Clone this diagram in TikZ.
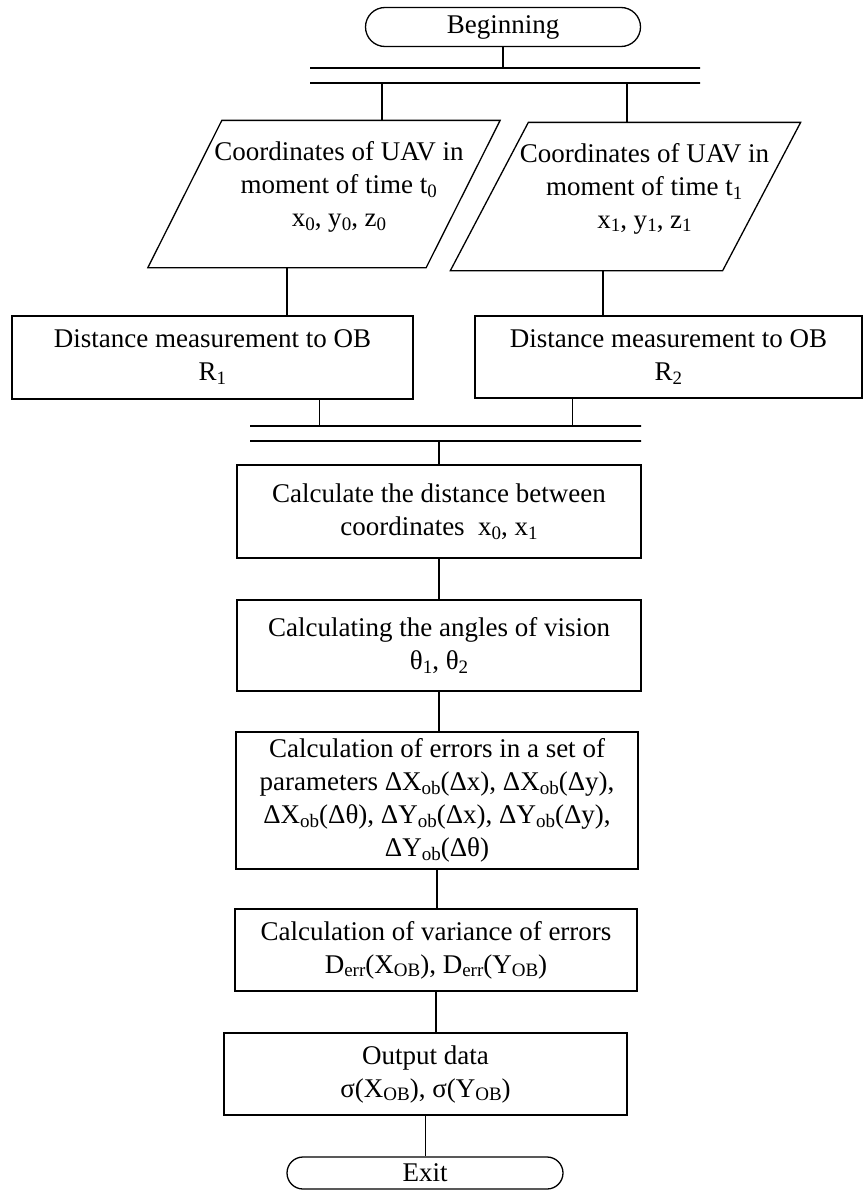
\documentclass[tikz,border=0pt]{standalone}
\usepackage{fontspec}
\setmainfont{Liberation Serif}
\usepackage{tikz}
\usetikzlibrary{shapes}
\newcommand{\sbs}[2]{#1\raisebox{-0.3ex}{\fontsize{19}{19}\selectfont #2}}

\begin{document}
\begin{tikzpicture}[x=1pt,y=-1pt]
    \tikzstyle{every node}=[font=\fontsize{27}{33}\selectfont, align=center, inner sep=0pt, line width=1.3pt]
    \tikzstyle{proc}=[rectangle, draw]
    \tikzstyle{term}=[rounded rectangle, draw]
    \tikzstyle{io}=[rectangle]
    \tikzstyle{bar}=[rectangle, draw, minimum height=0pt]
    \tikzstyle{line}=[line width=1.3pt]
    \useasboundingbox (0,0) rectangle (866,1191);
    \node[term, minimum width=275pt, minimum height=39pt] (begin) at (503,27) {Beginning};
    \node[bar, minimum width=390pt] (fork) at (505,68) {};
    \node[bar, minimum width=390pt] (forkb) at (505,83) {};
    \node[io, minimum width=277pt, minimum height=146pt] (coordA) at (324,194) {};
    \node[io, minimum width=271pt, minimum height=147pt] (coordB) at (625.5,196.5) {};
    \draw[line] ([xshift=37pt]coordA.north west) -- ([xshift=37pt]coordA.north east)
      -- ([xshift=-37pt]coordA.south east) -- ([xshift=-37pt]coordA.south west) -- cycle;
    \draw[line] ([xshift=39pt]coordB.north west) -- ([xshift=39pt]coordB.north east)
      -- ([xshift=-39pt]coordB.south east) -- ([xshift=-39pt]coordB.south west) -- cycle;
    \node (txtA) at ([xshift=15pt,yshift=7pt]coordA.center)
      {Coordinates of UAV in\\ moment of time t\textsubscript{0}\\ \sbs{x}{0}, \sbs{y}{0}, \sbs{z}{0}};
    \node (txtB) at ([xshift=19pt,yshift=8pt]coordB.center)
      {Coordinates of UAV in\\ moment of time t\textsubscript{1}\\ \sbs{x}{1}, \sbs{y}{1}, \sbs{z}{1}};
    \node[proc, minimum width=401pt, minimum height=83pt] (distA) at (212.5,357.5)
      {Distance measurement to OB\\ R\textsubscript{1}};
    \node[proc, minimum width=387pt, minimum height=82pt] (distB) at (668.5,357)
      {Distance measurement to OB\\ R\textsubscript{2}};
    \node[bar, minimum width=391pt] (join) at (445.5,426) {};
    \node[bar, minimum width=391pt] (joinb) at (445.5,441) {};
    \node[proc, minimum width=404pt, minimum height=93pt] (dist) at (439,511.5)
      {Calculate the distance between\\ coordinates \ \sbs{x}{0}, \sbs{x}{1}};
    \node[proc, minimum width=404pt, minimum height=91pt] (angle) at (439,645.5)
      {Calculating the angles of vision\\ \sbs{θ}{1}, \sbs{θ}{2}};
    \node[proc, minimum width=402pt, minimum height=137pt] (err) at (437,800.5)
      {Calculation of errors in a set of\\
       parameters Δ\sbs{X}{ob}(Δx), Δ\sbs{X}{ob}(Δy),\\
       Δ\sbs{X}{ob}(Δθ), Δ\sbs{Y}{ob}(Δx), Δ\sbs{Y}{ob}(Δy),\\
       Δ\sbs{Y}{ob}(Δθ)};
    \node[proc, minimum width=402pt, minimum height=82pt] (var) at (436,950)
      {Calculation of variance of errors\\ \sbs{D}{err}(\sbs{X}{OB}), \sbs{D}{err}(\sbs{Y}{OB})};
    \node[proc, minimum width=403pt, minimum height=82pt] (out) at (425.5,1074)
      {Output data\\ σ(\sbs{X}{OB}), σ(\sbs{Y}{OB})};
    \node[term, minimum width=276pt, minimum height=32pt] (exit) at (425,1173) {Exit};
    \draw[line] (begin.south) -- (begin.south |- fork);
    \draw[line] ([xshift=58pt]coordA.north |- forkb) -- ([xshift=58pt]coordA.north);
    \draw[line] ([xshift=1.5pt]coordB.north |- forkb) -- ([xshift=1.5pt]coordB.north);
    \draw[line] ([xshift=-37pt]coordA.south) -- ([xshift=-37pt]coordA.south |- distA.north);
    \draw[line] ([xshift=-22.5pt]coordB.south) -- ([xshift=-22.5pt]coordB.south |- distB.north);
    \draw[line] ([xshift=107pt]distA.south) -- ([xshift=107pt]distA.south |- join);
    \draw[line] ([xshift=-96pt]distB.south) -- ([xshift=-96pt]distB.south |- join);
    \draw[line] (dist.north |- joinb) -- (dist.north);
    \draw[line] (dist.south) -- (dist.south |- angle.north);
    \draw[line] (angle.south) -- (angle.south |- err.north);
    \draw[line] (err.south) -- (err.south |- var.north);
    \draw[line] (var.south) -- (var.south |- out.north);
    \draw[line] (out.south) -- (out.south |- exit.north);
\end{tikzpicture}
\end{document}
